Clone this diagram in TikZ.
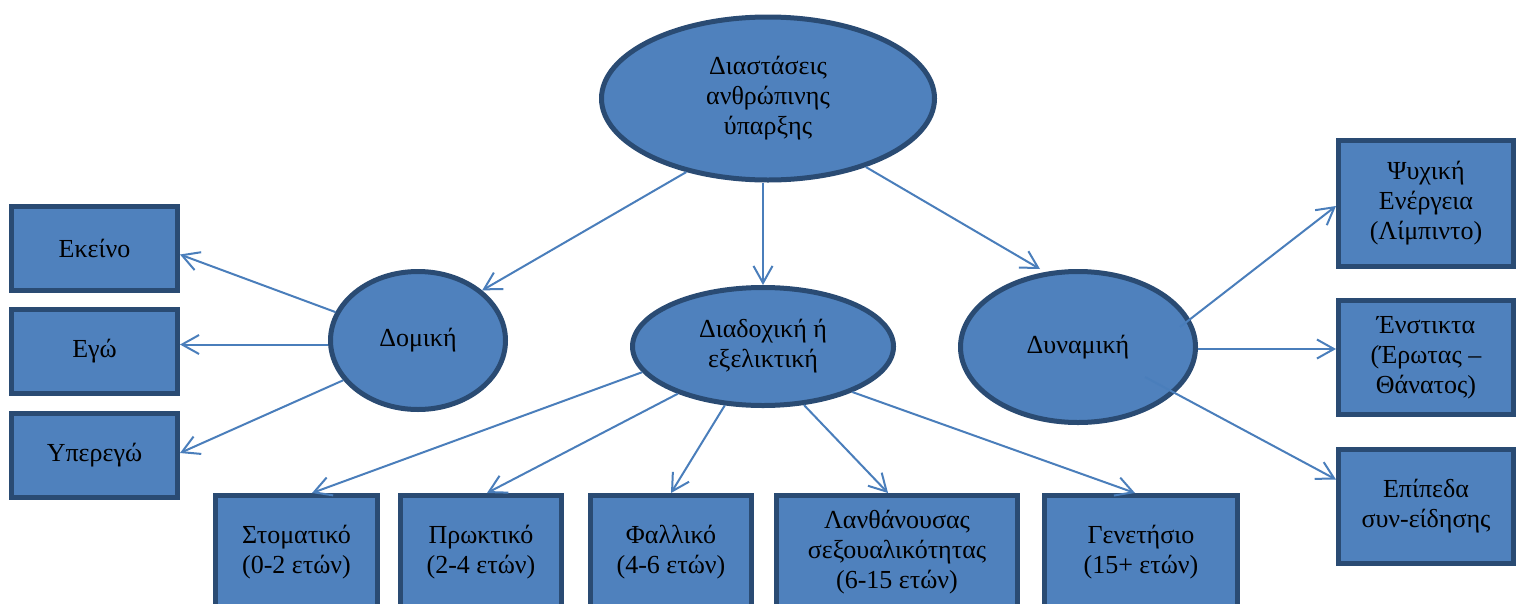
\documentclass[tikz,border=0pt]{standalone}
\usepackage{fontspec}
\setmainfont{Liberation Serif}
\usetikzlibrary{arrows.meta,shapes.geometric,calc}
\definecolor{fillb}{HTML}{4F81BD}
\definecolor{edgeb}{HTML}{2A4B73}
\definecolor{arrb}{HTML}{4A7EBB}
\begin{document}
\begin{tikzpicture}[x=1pt,y=-1pt,
  ell/.style={ellipse,draw=edgeb,fill=fillb,line width=5pt,inner sep=0pt,align=center,font=\fontsize{26}{30}\selectfont},
  box/.style={rectangle,draw=edgeb,fill=fillb,line width=5pt,inner sep=0pt,align=center,font=\fontsize{26}{30}\selectfont},
  arr/.style={draw=arrb,line width=2pt,-{Straight Barb[length=17pt,width=19pt]}}]
\useasboundingbox (0,0) rectangle (1518,603);
\clip (0,0) rectangle (1518,603);
% ellipses
\node[ell,minimum width=333pt,minimum height=163pt] (top) at (768,98.5) {Διαστάσεις\\ανθρώπινης\\ύπαρξης};
\node[ell,minimum width=175pt,minimum height=138pt] (dom) at (418,340.5) {Δομική};
\node[ell,minimum width=261pt,minimum height=118pt] (dia) at (763,346.5) {Διαδοχική ή\\εξελικτική};
\node[ell,minimum width=235pt,minimum height=151pt] (dyn) at (1078,347) {Δυναμική};
% left boxes
\node[box,minimum width=166pt,minimum height=84pt] (ek) at (94.5,248.5) {Εκείνο};
\node[box,minimum width=166pt,minimum height=84pt] (ego) at (94.5,351) {Εγώ};
\node[box,minimum width=166pt,minimum height=84pt] (yp) at (94.5,455) {Υπερεγώ};
% right boxes
\node[box,minimum width=175pt,minimum height=126pt] (psy) at (1426,203.5) {Ψυχική\\Ενέργεια\\(Λίμπιντο)};
\node[box,minimum width=175pt,minimum height=114pt] (ins) at (1426,357.5) {Ένστικτα\\(Έρωτας –\\Θάνατος)};
\node[box,minimum width=175pt,minimum height=114pt] (epi) at (1426,506.5) {Επίπεδα\\συν-είδησης};
% bottom boxes
\node[box,minimum width=162pt,minimum height=114pt] (b1) at (296.5,552.5) {Στοματικό\\(0-2 ετών)};
\node[box,minimum width=161pt,minimum height=114pt] (b2) at (481,552.5) {Πρωκτικό\\(2-4 ετών)};
\node[box,minimum width=161pt,minimum height=114pt] (b3) at (671,552.5) {Φαλλικό\\(4-6 ετών)};
\node[box,minimum width=241pt,minimum height=114pt] (b4) at (897,552.5) {Λανθάνουσας\\σεξουαλικότητας\\(6-15 ετών)};
\node[box,minimum width=193pt,minimum height=114pt] (b5) at (1141,552.5) {Γενετήσιο\\(15+ ετών)};
% connectors
\draw[arr] (top.222) -- (dom.38);
\coordinate (topS) at (dia.north |- top.south);
\draw[arr] (topS) -- (dia.north);
\draw[arr] (top.325) -- ($(dyn.north)+(-38,0)$);
\draw[arr] (dom.161) -- ($(ek.east)+(0,6)$);
\coordinate (domW) at ($(dom.west)+(0,4)$);
\draw[arr] (domW) -- (domW -| ego.east);
\draw[arr] (dom.208) -- ($(yp.east)+(0,-2)$);
\draw[arr] (dia.192) -- ($(b1.north)+(15.5,0)$);
\draw[arr] (dia.209) -- ($(b2.north)+(6,0)$);
\draw[arr] (dia.237) -- (b3.north);
\draw[arr] (dia.305) -- ($(b4.north)+(-9,0)$);
\draw[arr] (dia.333) -- ($(b5.north)+(-6,0)$);
\coordinate (dynA) at ($(dyn.center)+(102,-20)$);
\draw[arr] (dynA) -- ($(psy.west)+(0,2.5)$);
\coordinate (dynE) at ($(dyn.east)+(0,2)$);
\draw[arr] (dynE) -- (dynE -| ins.west);
\coordinate (dynB) at ($(dyn.center)+(67,30)$);
\draw[arr] (dynB) -- ($(epi.west)+(0,-27)$);
\end{tikzpicture}
\end{document}
